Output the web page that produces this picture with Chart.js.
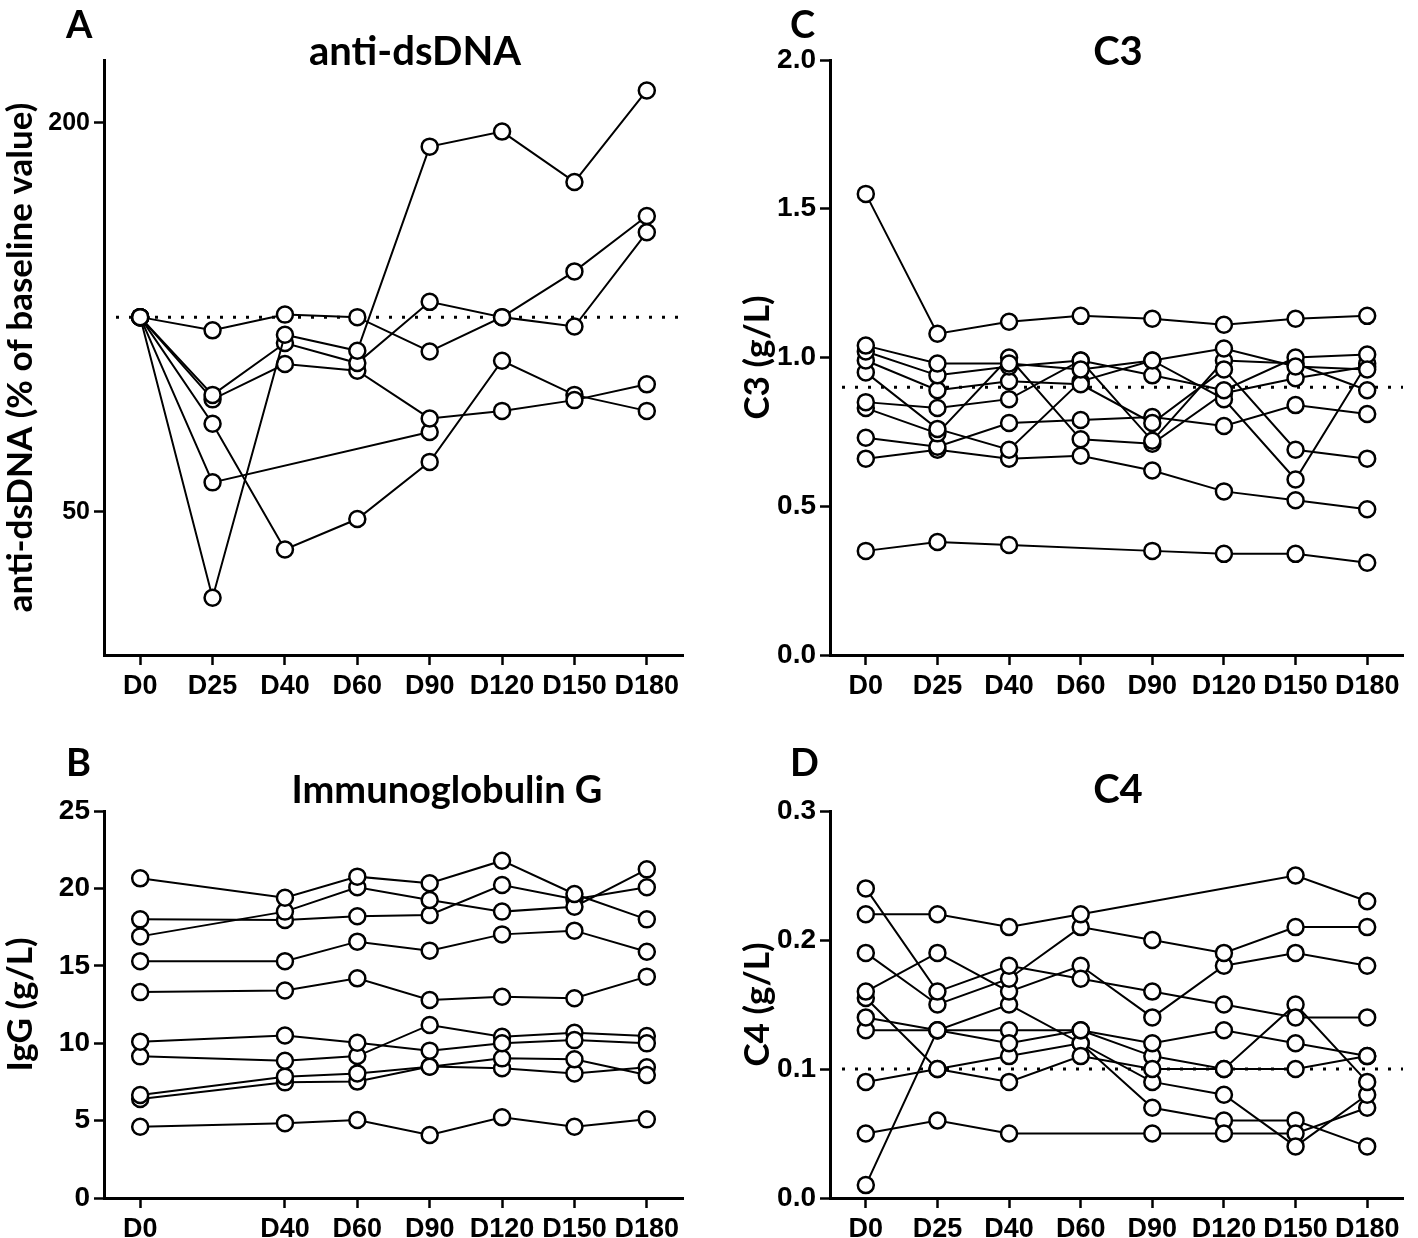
<!DOCTYPE html>
<html>
<head>
<meta charset="utf-8">
<script src="https://cdn.jsdelivr.net/npm/chart.js@4.4.1/dist/chart.umd.min.js"></script>
<style>
body{margin:0;background:#fff;width:1418px;height:1238px;position:relative;overflow:hidden;font-family:Lato,'Open Sans',sans-serif}
canvas{position:absolute}
.lbl{position:absolute;font-weight:bold;color:#000;white-space:nowrap;line-height:1}
.ttl{transform:translateX(-50%)}
</style>
</head>
<body>
<canvas id="cA" width="709" height="720" style="left:0;top:0"></canvas>
<canvas id="cC" width="709" height="720" style="left:709px;top:0"></canvas>
<canvas id="cB" width="709" height="518" style="left:0;top:720px"></canvas>
<canvas id="cD" width="709" height="518" style="left:709px;top:720px"></canvas>

<div class="lbl" style="left:66px;top:4px;font-size:38px">A</div>
<div class="lbl ttl" style="left:415px;top:30px;font-size:40px">anti-dsDNA</div>
<div class="lbl" style="left:790px;top:4px;font-size:38px">C</div>
<div class="lbl ttl" style="left:1118px;top:30px;font-size:40px">C3</div>
<div class="lbl" style="left:66px;top:742px;font-size:38px">B</div>
<div class="lbl ttl" style="left:447px;top:769px;font-size:38px">Immunoglobulin G</div>
<div class="lbl" style="left:790px;top:742px;font-size:38px">D</div>
<div class="lbl ttl" style="left:1118px;top:768px;font-size:40px">C4</div>

<script>
const days=['D0','D25','D40','D60','D90','D120','D150','D180']
const igDays=['D0','','D40','D60','D90','D120','D150','D180']   // no D25 sample for IgG

// anti-dsDNA, % of baseline (log axis)
const dsdna=[
    [100,36.8,93.9,88.7,183.6,193.7,161.9,224.3],
    [100,95.4,100.9,100,88.5,100,96.7,135.3],
    [100,75.8,91.2,84.9,105.6,100,117.7,143.4],
    [100,74.6,84.6,82.6,69.7,71.6,74.4,78.7],
    [100,68.4,43.7,48.7,59.7,85.6,75.8,71.6],
    [100,55.5,null,null,66.4,null,null,null]
]
const dsdnaTicks=[50,200]
const dsdnaRef=100

// C3 g/L
const c3=[
    [1.55,1.08,1.12,1.14,1.13,1.11,1.13,1.14],
    [1.04,0.98,0.98,0.96,0.99,1.03,0.97,0.96],
    [1.02,0.94,0.97,0.99,0.94,0.89,1.00,1.01],
    [0.99,0.89,0.92,0.91,0.78,0.96,0.69,0.66],
    [0.95,0.76,0.69,0.92,0.99,0.86,0.59,0.98],
    [0.85,0.83,0.86,0.99,0.72,0.99,0.98,0.89],
    [0.83,0.745,1.00,0.725,0.71,0.88,0.93,0.97],
    [0.73,0.70,0.78,0.79,0.80,0.77,0.84,0.81],
    [0.66,0.69,0.66,0.67,0.62,0.55,0.52,0.49],
    [0.35,0.38,0.37,null,0.35,0.34,0.34,0.31]
]
const c3Ref=0.9

// IgG g/L
const igg=[
    [20.65,null,19.4,20.76,20.33,21.79,19.64,18.0],
    [16.9,null,18.5,20.07,19.25,18.5,18.82,21.23],
    [18.0,null,17.96,18.2,18.28,20.22,19.3,20.07],
    [15.3,null,15.3,16.56,15.98,17.03,17.27,15.91],
    [13.3,null,13.4,14.19,12.79,13.0,12.9,14.3],
    [10.1,null,10.5,10.03,9.52,10.0,10.2,9.99],
    [9.15,null,8.87,9.17,11.18,10.42,10.68,10.47],
    [6.65,null,7.84,8.05,8.48,9.02,8.96,7.95],
    [6.4,null,7.47,7.52,8.5,8.38,8.05,8.44],
    [4.6,null,4.83,5.04,4.07,5.21,4.6,5.08]
]

// C4 g/L
const c4=[
    [0.24,0.16,0.18,0.17,0.16,0.15,0.14,0.14],
    [0.22,0.22,0.21,0.22,null,null,0.25,0.23],
    [0.19,0.15,0.17,0.21,0.20,0.19,0.21,0.21],
    [0.16,0.19,0.16,0.18,0.14,0.18,0.19,0.18],
    [0.155,0.10,0.09,0.11,0.10,0.10,0.10,0.11],
    [0.14,0.13,0.12,0.13,0.12,0.13,0.12,0.11],
    [0.13,0.13,0.13,0.13,0.11,0.10,0.15,0.09],
    [0.09,0.10,0.11,0.12,0.09,0.08,0.04,0.08],
    [0.05,0.06,0.05,null,0.05,0.05,0.05,0.07],
    [0.01,0.13,0.15,0.12,0.07,0.06,0.06,0.04]
]
const c4Ref=0.1

const tickFont={family:"'Liberation Sans',Arial,sans-serif",size:27,weight:'bold'}
const yTickFont={family:"'Liberation Sans',Arial,sans-serif",size:28,weight:'bold'}
const titleFont={family:"Lato,'Open Sans',sans-serif",size:35,weight:'bold'}

const refLine={
    id:'refLine',
    beforeDatasetsDraw(chart,args,opts){
        if(opts.value==null) return
        const y=chart.scales.y.getPixelForValue(opts.value)
        const ctx=chart.ctx
        ctx.save()
        ctx.setLineDash([3,10])
        ctx.lineWidth=3
        ctx.strokeStyle='#000'
        ctx.beginPath()
        ctx.moveTo(chart.chartArea.left+12,y)
        ctx.lineTo(chart.chartArea.right,y)
        ctx.stroke()
        ctx.restore()
    }
}

function makePanel(id,labels,series,yOpts,cfg){
    const datasets=series.map(s=>({
        data:s,
        borderColor:'#000',
        borderWidth:2,
        pointRadius:8,
        pointBorderWidth:2.5,
        pointBackgroundColor:'#fff',
        pointBorderColor:'#000',
        spanGaps:true,
        tension:0
    }))
    new Chart(document.getElementById(id),{
        type:'line',
        data:{labels:labels,datasets:datasets},
        plugins:[refLine],
        options:{
            responsive:false,
            animation:false,
            events:[],
            layout:{padding:{left:cfg.padLeft,right:cfg.padRight,top:cfg.padTop,bottom:cfg.padBottom}},
            plugins:{
                legend:{display:false},
                tooltip:{enabled:false},
                refLine:{value:cfg.ref}
            },
            scales:{
                x:{
                    type:'category',
                    offset:true,
                    grid:{
                        offset:false,
                        drawOnChartArea:false,
                        drawTicks:true,
                        tickLength:10,
                        tickWidth:2.5,
                        tickColor:ctx=>labels[ctx.index]===''?'rgba(0,0,0,0)':'#000'
                    },
                    border:{color:'#000',width:3},
                    ticks:{color:'#000',font:tickFont,padding:5,maxRotation:0,autoSkip:false},
                    afterFit(scale){scale.height=cfg.xHeight}
                },
                y:Object.assign({
                    grid:{drawOnChartArea:false,drawTicks:true,tickLength:10,tickWidth:2.5,tickColor:'#000'},
                    border:{color:'#000',width:3},
                    title:{display:true,text:cfg.yTitle,color:'#000',font:titleFont,padding:{top:0,bottom:0}},
                    afterFit(scale){scale.width=cfg.yWidth}
                },yOpts)
            }
        }
    })
}

makePanel('cA',days,dsdna,{
    type:'logarithmic',
    min:30,
    max:250,
    afterBuildTicks(scale){scale.ticks=dsdnaTicks.map(v=>({value:v}))},
    ticks:{color:'#000',font:{family:"'Liberation Sans Narrow','Liberation Sans',sans-serif",size:25,weight:'bold'},padding:4,callback:v=>String(v)}
},{padLeft:0,padRight:26,padTop:60,padBottom:15,xHeight:50,yWidth:104,ref:dsdnaRef,yTitle:'anti-dsDNA (% of baseline value)'})

makePanel('cC',days,c3,{
    min:0,max:2,
    ticks:{color:'#000',font:yTickFont,padding:4,stepSize:0.5,callback:v=>v.toFixed(1)}
},{padLeft:28,padRight:15,padTop:60,padBottom:15,xHeight:50,yWidth:93,ref:c3Ref,yTitle:'C3 (g/L)'})

makePanel('cB',igDays,igg,{
    min:0,max:25,
    ticks:{color:'#000',font:yTickFont,padding:4,stepSize:5,callback:v=>String(v)}
},{padLeft:0,padRight:26,padTop:91,padBottom:0,xHeight:40,yWidth:104,ref:null,yTitle:'IgG (g/L)'})

makePanel('cD',days,c4,{
    min:0,max:0.3,
    ticks:{color:'#000',font:yTickFont,padding:4,stepSize:0.1,callback:v=>v.toFixed(1)}
},{padLeft:28,padRight:15,padTop:91,padBottom:0,xHeight:40,yWidth:93,ref:c4Ref,yTitle:'C4 (g/L)'})
</script>
</body>
</html>
